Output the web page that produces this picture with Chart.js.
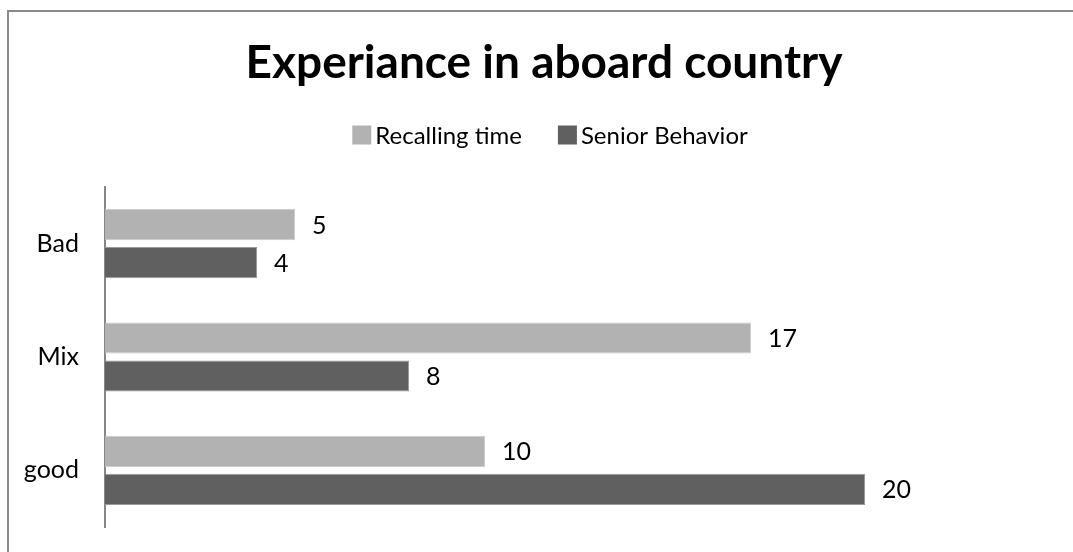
<!DOCTYPE html>
<html>
<head>
<meta charset="utf-8">
<script src="https://cdn.jsdelivr.net/npm/chart.js@4.4.1/dist/chart.umd.min.js"></script>
<style>
  html, body { margin: 0; padding: 0; background: #fff; overflow: hidden; }
  canvas { display: block; }
</style>
</head>
<body>
<canvas id="mycanvas" width="1073" height="552"></canvas>
<script>
var chartTitle = 'Experiance in aboard country';
var categories = ['Bad', 'Mix', 'good'];
var recallingTime = [5, 17, 10];
var seniorBehavior = [4, 8, 20];
var xMax = 20;

var FONT = 'Lato, "Liberation Sans", sans-serif';

// frame, title and legend, drawn the way the old office chart had them
var decorPlugin = {
	id: 'decor',
	beforeDraw: function(chart) {
		var ctx = chart.ctx;
		ctx.save();
		ctx.strokeStyle = '#8a8a8a';
		ctx.lineWidth = 2;
		ctx.strokeRect(8, 11, 1200, 700);
		ctx.restore();
	},
	afterDraw: function(chart) {
		var ctx = chart.ctx;
		ctx.save();
		ctx.fillStyle = '#000';
		ctx.textBaseline = 'alphabetic';
		ctx.textAlign = 'center';
		ctx.font = 'bold 46px ' + FONT;
		ctx.fillText(chartTitle, 544, 78);

		// legend
		ctx.font = '24px ' + FONT;
		ctx.textAlign = 'left';
		ctx.textBaseline = 'middle';
		var ds = chart.data.datasets;
		var box = 19, gapText = 4, gapItem = 36;
		var total = 0;
		ds.forEach(function(d, i) {
			total += box + gapText + ctx.measureText(d.label).width;
			if (i < ds.length - 1) total += gapItem;
		});
		var x = 550 - total / 2, y = 135;
		ds.forEach(function(d) {
			ctx.fillStyle = d.backgroundColor;
			ctx.fillRect(x, y - box / 2, box, box);
			x += box + gapText;
			ctx.fillStyle = '#000';
			ctx.fillText(d.label, x, y + 1);
			x += ctx.measureText(d.label).width + gapItem;
		});
		ctx.restore();
	},
	afterDatasetsDraw: function(chart) {
		var ctx = chart.ctx;
		ctx.save();
		ctx.font = '25px ' + FONT;
		ctx.fillStyle = '#000';
		ctx.textAlign = 'left';
		ctx.textBaseline = 'middle';
		chart.data.datasets.forEach(function(d, i) {
			chart.getDatasetMeta(i).data.forEach(function(bar, j) {
				ctx.fillText(String(d.data[j]), bar.x + 17, bar.y + 1);
			});
		});
		ctx.restore();
	}
};

var chartdata = {
	labels: categories,
	datasets: [
		{
			label: 'Recalling time',
			backgroundColor: '#b2b2b2',
			borderColor: '#cccccc',
			borderWidth: 1,
			data: recallingTime
		},
		{
			label: 'Senior Behavior',
			backgroundColor: '#606060',
			borderColor: '#9a9a9a',
			borderWidth: 1,
			data: seniorBehavior
		}
	]
};

var ctx = document.getElementById('mycanvas');

var barGraph = new Chart(ctx, {
	type: 'bar',
	data: chartdata,
	plugins: [decorPlugin],
	options: {
		indexAxis: 'y',
		responsive: false,
		animation: false,
		categoryPercentage: 0.67,
		barPercentage: 0.82,
		layout: { padding: { top: 187, bottom: 25, left: 0, right: 208 } },
		plugins: {
			legend: { display: false },
			title: { display: false },
			tooltip: { enabled: false }
		},
		scales: {
			x: { display: false, min: 0, max: xMax },
			y: {
				grid: { display: false, drawTicks: false },
				border: { display: true, color: '#868686', width: 2 },
				ticks: { color: '#000', padding: 26, font: { family: FONT, size: 25 } },
				afterFit: function(scale) {
					scale.width = 105;
					// keep the axis running the full plot height
					scale.paddingTop = 0;
					scale.paddingBottom = 0;
				}
			}
		}
	}
});
</script>
</body>
</html>
